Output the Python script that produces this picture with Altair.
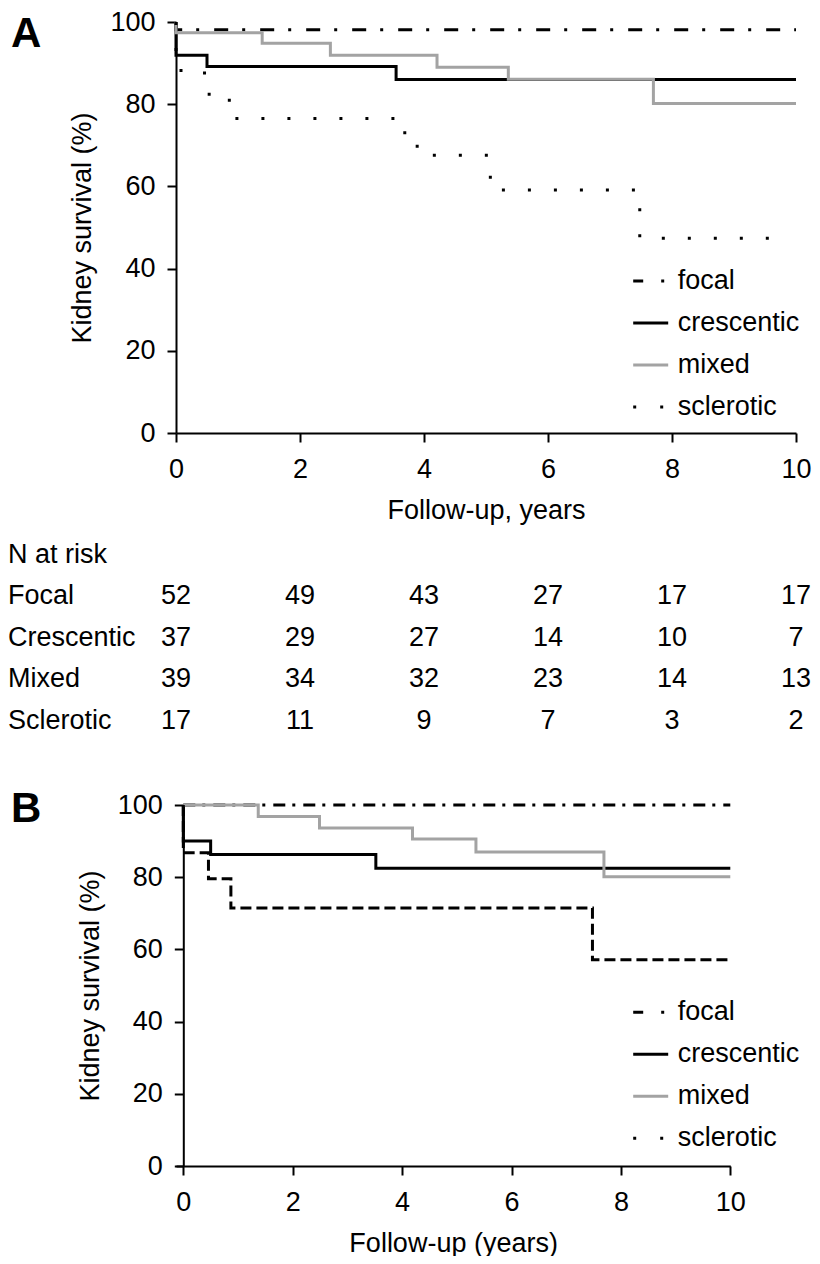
import altair as alt
import pandas as pd

FONT = "Liberation Sans"

groups = ["focal", "crescentic", "mixed", "sclerotic"]
x_ticks = [0, 2, 4, 6, 8, 10]
y_ticks = [0, 20, 40, 60, 80, 100]

# ---- Panel A: kidney survival by class (step points: time in years, survival %)
a_focal_t = [0, 0, 10]
a_focal_s = [100, 98.1, 98.1]
a_cres_t = [0, 0, 0.5, 3.55, 10]
a_cres_s = [100, 91.9, 89.2, 86.0, 86.0]
a_mixed_t = [0, 0, 1.39, 2.49, 4.21, 5.36, 7.70, 10]
a_mixed_s = [100, 97.4, 94.8, 91.9, 89.0, 86.1, 80.2, 80.2]
a_scl_t = [0, 0, 0.46, 0.86, 3.69, 3.89, 5.07, 7.48, 9.70]
a_scl_s = [100, 88.2, 82.4, 76.5, 71.7, 67.6, 59.1, 47.4, 47.4]

# ---- Panel B
b_focal_t = [0, 10]
b_focal_s = [100, 100]
b_cres_t = [0, 0, 0.5, 3.52, 10]
b_cres_s = [100, 90.0, 86.3, 82.5, 82.5]
b_mixed_t = [0, 1.37, 2.49, 4.19, 5.35, 7.69, 10]
b_mixed_s = [100, 96.8, 93.6, 90.6, 87.0, 80.1, 80.1]
b_scl_t = [0, 0, 0.46, 0.87, 7.48, 10]
b_scl_s = [100, 86.8, 79.6, 71.5, 57.1, 57.1]

# ---- N at risk table
risk_header = "N at risk"
risk_rows = ["Focal", "Crescentic", "Mixed", "Sclerotic"]
risk_years = [0, 2, 4, 6, 8, 10]
risk_focal = [52, 49, 43, 27, 17, 17]
risk_crescentic = [37, 29, 27, 14, 10, 7]
risk_mixed = [39, 34, 32, 23, 14, 13]
risk_sclerotic = [17, 11, 9, 7, 3, 2]


def series_df(series):
    recs = []
    for g, (ts, ss) in zip(groups, series):
        for i, (t, s) in enumerate(zip(ts, ss)):
            recs.append({"group": g, "t": t, "s": s, "i": i})
    return pd.DataFrame(recs)


dfA = series_df([(a_focal_t, a_focal_s), (a_cres_t, a_cres_s),
                 (a_mixed_t, a_mixed_s), (a_scl_t, a_scl_s)])
dfB = series_df([(b_focal_t, b_focal_s), (b_cres_t, b_cres_s),
                 (b_mixed_t, b_mixed_s), (b_scl_t, b_scl_s)])

GRAY = "#a3a3a3"
styles_A = {"focal": ("black", [14, 14, 3, 15]), "crescentic": ("black", None),
            "mixed": (GRAY, None), "sclerotic": ("black", [3, 23])}
styles_B = {"focal": ("black", [12, 7, 3, 8]), "crescentic": ("black", None),
            "mixed": (GRAY, None), "sclerotic": ("black", [11, 5])}
legend_colors = ["black", "black", GRAY, "black"]
legend_dashes = [[10, 18, 3, 20], [1, 0], [1, 0], [3, 24]]
draw_order = ["focal", "crescentic", "mixed", "sclerotic"]

AX = dict(domainColor="black", domainWidth=2, tickColor="black", tickWidth=2, tickSize=9,
          labelColor="black", labelFont=FONT, labelFontSize=27, titleColor="black",
          titleFont=FONT, titleFontSize=27, titleFontWeight="normal", grid=False,
          labelFlush=False, labelOverlap=False)


def xenc(title, xmin):
    return alt.X("t:Q", scale=alt.Scale(domain=[xmin, 10], nice=False, zero=False),
                 axis=alt.Axis(values=x_ticks, format="d", title=title,
                               labelPadding=14, titlePadding=15, **AX))


def yenc(offset):
    return alt.Y("s:Q", scale=alt.Scale(domain=[0, 100], nice=False),
                 axis=alt.Axis(values=y_ticks, format="d", title="Kidney survival (%)",
                               labelPadding=12, titlePadding=13, offset=offset, **AX))


def panel(df, styles, title_x, xmin, yoff, letter, letter_y, leg_y, w, h):
    layers = []
    for g in draw_order:
        col, dash = styles[g]
        mk = dict(interpolate="step-after", strokeWidth=3, color=col)
        if dash:
            mk["strokeDash"] = dash
        layers.append(
            alt.Chart(df).transform_filter(alt.datum.group == g)
            .mark_line(**mk)
            .encode(x=xenc(title_x, xmin), y=yenc(yoff), order="i:Q")
        )
    leg = alt.Legend(title=None, orient="none", legendX=455.7, legendY=leg_y,
                     symbolType="stroke", symbolSize=1225, symbolStrokeWidth=3,
                     labelFontSize=27, labelFont=FONT, labelColor="black",
                     labelOffset=8, rowPadding=10, padding=0)
    legend_layer = (
        alt.Chart(df).transform_filter(alt.datum.i == 0)
        .mark_line(strokeWidth=3)
        .encode(
            x=xenc(title_x, xmin), y=yenc(yoff),
            color=alt.Color("group:N", scale=alt.Scale(domain=groups, range=legend_colors), legend=leg),
            strokeDash=alt.StrokeDash("group:N", scale=alt.Scale(domain=groups, range=legend_dashes), legend=leg),
        )
    )
    letter_layer = (
        alt.Chart(pd.DataFrame({"txt": [letter]}))
        .mark_text(align="left", baseline="alphabetic", fontSize=42, fontWeight="bold",
                   font=FONT, color="black")
        .encode(text="txt:N", x=alt.value(-165), y=alt.value(letter_y))
    )
    return alt.layer(*layers, legend_layer, letter_layer).properties(width=w, height=h)


chartA = panel(dfA, styles_A, "Follow-up, years", 0, 0, "A", 25, 240, 620, 411)
chartB = panel(dfB, styles_B, "Follow-up (years)", -0.1335, -7.3, "B", 16.7, 188.3, 554.3, 361)

# risk table
rows_order = [risk_header] + risk_rows
label_df = pd.DataFrame({"row": rows_order})
num_recs = []
for r, vals in zip(risk_rows, [risk_focal, risk_crescentic, risk_mixed, risk_sclerotic]):
    for yr, n in zip(risk_years, vals):
        num_recs.append({"row": r, "year": yr, "n": n})
num_df = pd.DataFrame(num_recs)

yrow = alt.Y("row:N", scale=alt.Scale(domain=rows_order, type="point", padding=0.5), axis=None)
labels = (
    alt.Chart(label_df)
    .mark_text(align="left", baseline="middle", fontSize=27, font=FONT, color="black")
    .encode(text="row:N", y=yrow, x=alt.value(-168))
)
nums = (
    alt.Chart(num_df)
    .mark_text(align="center", baseline="middle", fontSize=27, font=FONT, color="black")
    .encode(text="n:Q",
            x=alt.X("year:Q", scale=alt.Scale(domain=[0, 10], nice=False, zero=False), axis=None),
            y=yrow)
)
table = alt.layer(labels, nums).properties(width=620, height=207.5)

top = alt.concat(chartA, table, columns=1, spacing=11)
chart = (
    alt.concat(top, chartB, columns=1, spacing=45)
    .resolve_scale(color="independent", strokeDash="independent")
    .resolve_legend(color="independent", strokeDash="independent")
    .properties(padding=0)
    .configure(font=FONT)
    .configure_view(stroke=None)
)

chart.save("out.html", embed_options={"renderer": "svg", "actions": False})
